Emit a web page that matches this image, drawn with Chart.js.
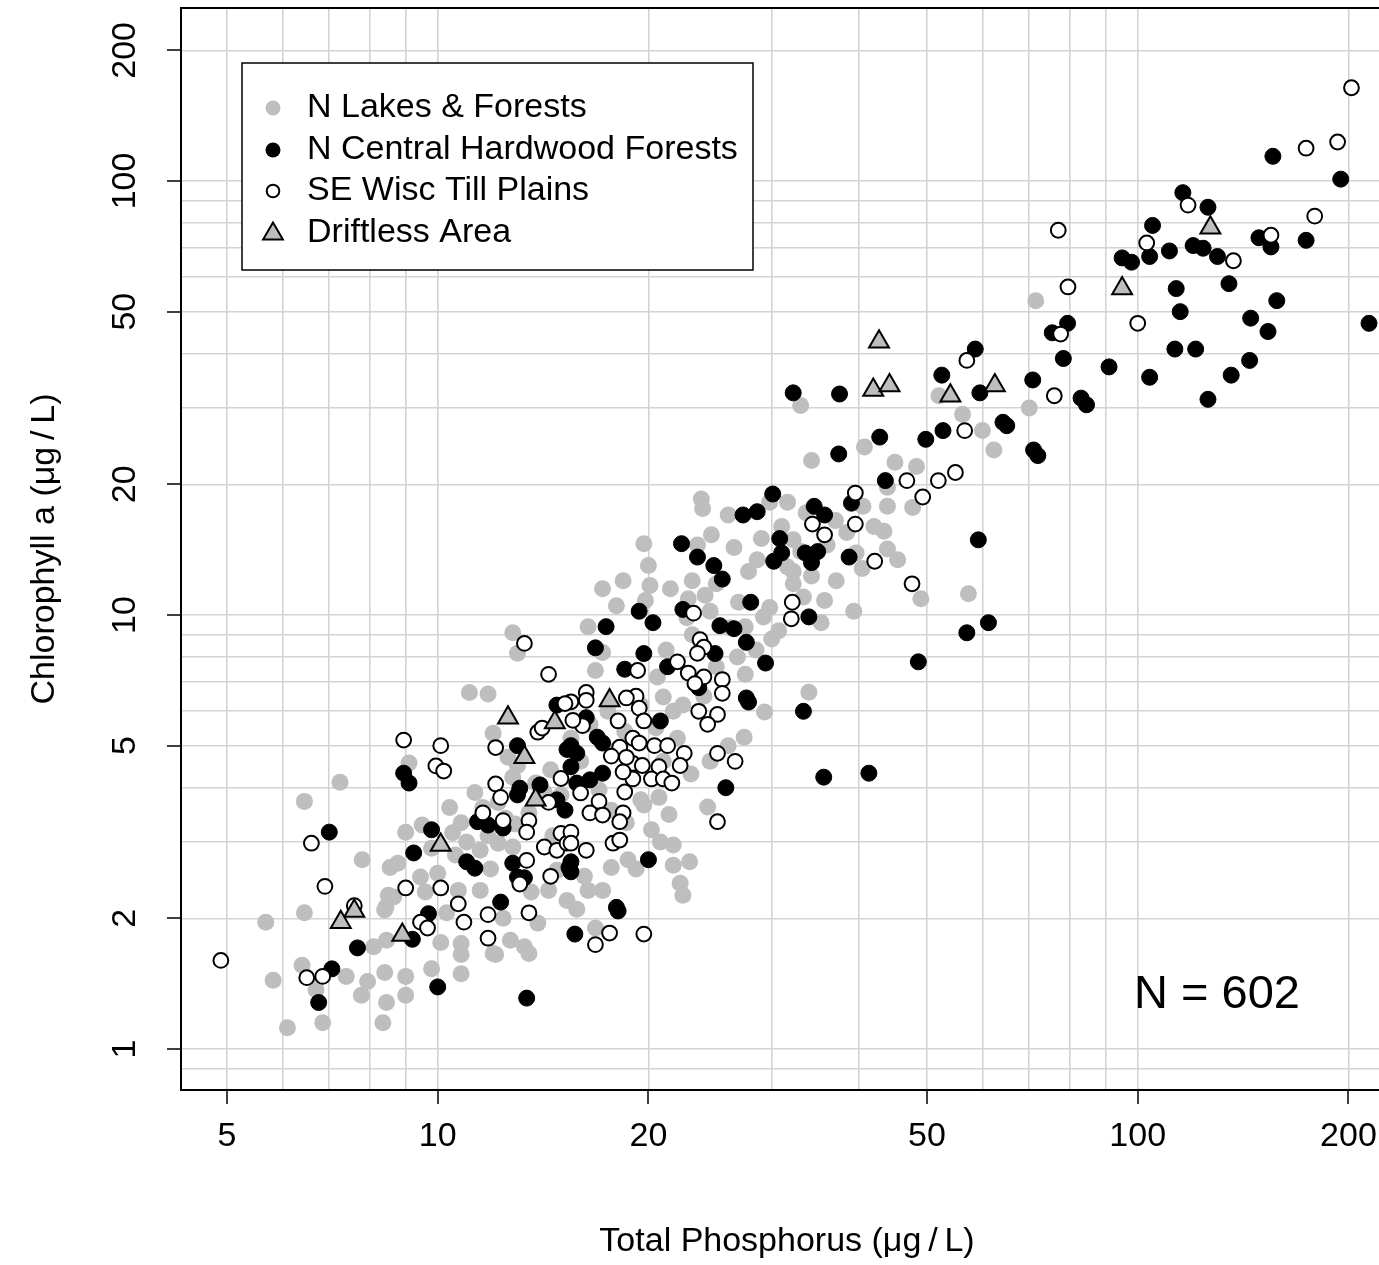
<!DOCTYPE html>
<html><head><meta charset="utf-8">
<script src="https://cdn.jsdelivr.net/npm/chart.js@4.4.1/dist/chart.umd.min.js"></script>
<style>html,body{margin:0;padding:0;background:#fff;overflow:hidden;}#wrap{width:1400px;height:1265px;}</style>
</head><body><div id="wrap"><canvas id="c" width="1400" height="1265"></canvas></div>
<script>
// Total Phosphorus (x, ug/L) , Chlorophyll a (y, ug/L)
const nLakesForests = [
[71.5,53],[70,30],[52,32],[56.2,29],[60,26.6],[62.3,24],[40.7,24.4],[45,22.5],[48.3,22],[33,30.4],[34.2,22.7],
[43.9,19.7],[47.7,17.7],[43.9,17.8],[40.5,17.8],[33.6,17.2],[38.4,15.5],[43.4,15.6],[39.6,13.9],[43.9,14.2],
[45.4,13.4],[40.4,12.8],[32.2,12.6],[34.2,12.3],[32.2,11.8],[37.1,12.0],[35.7,10.8],[39.3,10.2],[33.3,11],
[35.3,9.6],[49,10.9],[57.3,11.2],[33.9,6.64],[29.3,5.98],[30.7,9.2],
[31.6,18.2],[29.8,18.2],[23.9,17.6],[32.2,14.9],[24.6,15.3],[23.5,14.5],[26.5,14.3],[28.6,13.4],[27.8,12.6],
[31.6,12.9],[19.7,14.6],[20,13],[18.4,12.0],[20.1,11.7],[23.1,12.0],[24.1,11.1],[22.8,10.9],[26.9,10.7],
[29.8,10.4],[29.2,9.9],[16.4,9.4],[26.2,9.35],[27.5,9.4],[22.7,9.85],[24.5,10.2],
[23.1,9.0],[26.8,8.0],[17.2,8.2],[16.8,7.45],[20.6,7.2],[21.7,6.0],[22.4,6.2],[21.0,6.47],[27.4,5.23],[21.2,8.3],
[12.8,9.1],[13,8.16],[11.1,6.63],[11.8,6.58],[12.0,5.34],[12.6,4.7],[9.1,4.56],[12.8,4.23],
[9.0,3.16],[9.5,3.28],[10.5,3.15],[10.8,3.32],[11.5,2.87],[12.2,2.98],[12.8,2.92],[8.77,2.68],[9.45,2.49],
[10,2.54],[10.7,2.32],[11.5,2.32],[8.65,2.24],[8.43,2.12],[10.3,2.06],[10.1,1.76],[10.8,1.75],[12,1.66],
[12.7,1.78],[13.3,1.72],[13.9,1.95],[14.8,2.58],[14.4,2.32],[15.3,2.2],
[24.3,3.61],[17.7,2.62],[18.7,2.73],[16.4,2.32],[17.2,2.32],[21.7,2.95],[21.7,2.65],[22.2,2.41],[22.4,2.26],
[20.7,3.8],[19.7,3.65],[21.4,3.47],[18.6,3.32],[16.8,1.9],
[8.4,1.5],[9.0,1.47],[9.0,1.33],[8.45,1.28],[8.35,1.15],[9.8,1.53],[10.8,1.65],[10.8,1.49],[12.1,1.65],[13.5,1.66],
[7.25,4.12],[6.45,3.72],[7.8,2.73],[6.45,2.06],[5.68,1.96],[5.82,1.44],[6.4,1.56],[7.4,1.47],[7.94,1.43],
[7.78,1.33],[6.85,1.15],[6.1,1.12],[6.7,1.37],[8.1,1.72],[8.45,1.78],[8.4,2.09],[8.5,2.26],[8.55,2.62],
[11,3.0],[11.8,3.1],[12.5,3.4],[13.5,3.5],[14.2,3.9],[15,3.85],[17,3.95],[19.5,3.75],[17.7,3.55],[20.2,3.2],
[22.9,2.7],[13,4.5],[14.5,4.4],[15.5,5.2],[16.5,5.6],[17.5,6.0],[18.5,5.4],[19.5,6.2],[20.5,5.5],[22,5.2],
[23,4.3],[24.5,4.6],[26,5.0],[12.2,3.7],[11.3,3.9],[10.4,3.6],[9.8,2.9],[13.8,4.1],[16,4.6],[18,4.9],[21,4.6],
[24,6.5],[25,7.6],[27.5,7.3],[28.5,8.3],[30,8.8],[19.8,10.8],[21.5,11.5],[18,10.5],[17.2,11.5],[25,11.8],
[33,14],[36,14.5],[37,16.5],[42,16],[31,16],[29,15],[26,17],[23.8,18.5],
[11.6,3.6],[12.9,3.3],[14.6,3.1],[10.6,2.8],[11.9,2.6],[13.6,2.3],[9.6,2.3],[16.2,2.5],[19.2,2.6],[20.8,3.0],
[15.8,2.1],[12.4,2.0]
];
const nCentralHardwood = [
[156,114],[195,101],[116,94],[126,87],[105,79],[104,67],[95,66.5],[98,65],[111,69],[120,71],[124,70],[130,67],
[149,74],[155,70.5],[174,73],[214,47],[113.5,56.5],[135,58],[158,53],[115,50],[145,48.3],[153.5,45],[79.4,47],
[75.5,44.7],[78.3,39],[91,37.3],[113,41],[121,41],[144.5,38.6],[136,35.7],[104,35.3],[126,31.4],[70.8,34.8],
[83,31.6],[84.5,30.5],
[37.5,32.3],[52.5,35.7],[58.6,41],[59.5,32.5],[64.2,27.8],[65,27.3],[71,24],[72,23.3],[52.7,26.6],[49.8,25.4],
[42.8,25.7],[37.4,23.5],[32.2,32.5],[43.6,20.4],[39,18.1],[34.5,17.8],[35.7,17],[33.5,13.9],[34.9,14.0],
[34.2,13.2],[38.7,13.6],[33.9,9.9],[59.2,14.9],[61.2,9.6],[57,9.1],
[29.4,7.75],[48.6,7.8],[33.3,6.0],[35.6,4.23],[41.3,4.32],
[30.1,19],[27.3,17],[28.6,17.3],[30.8,15],[31.0,13.9],[30.2,13.3],[22.3,14.6],[23.5,13.6],[24.8,13],[25.5,12.1],
[28,10.7],[19.4,10.2],[20.3,9.6],[22.4,10.3],[17.4,9.4],[25.3,9.45],[26.5,9.3],
[27.6,8.65],[24.9,8.15],[16.8,8.4],[19.7,8.15],[18.5,7.5],[21.3,7.6],[23.6,6.8],[27.6,6.44],[27.8,6.3],
[20.8,5.7],[16.3,5.8],[15.5,5.0],[15.8,4.8],[15.5,4.47],[16.9,5.23],[17.2,5.07],[25.8,4.0],[17.2,4.32],
[16.5,4.17],[15.8,4.1],
[14.8,6.2],[13,5.0],[15.3,4.9],[8.94,4.32],[9.1,4.1],[14.0,4.06],[13.1,3.99],
[13,3.85],[14.8,3.75],[15.2,3.55],[11.4,3.34],[11.8,3.28],[12.4,3.23],[9.8,3.2],[9.24,2.83],[11,2.7],[11.3,2.61],
[12.8,2.68],[13,2.49],[13.3,2.48],[15.4,2.62],[12.3,2.18],[9.7,2.05],[9.2,1.79],
[20,2.73],[15.5,2.7],[15.5,2.56],[18,2.12],[18.1,2.08],[15.7,1.84],
[10,1.39],[13.4,1.31],
[7.0,3.16],[7.68,1.71],[7.06,1.53],[6.76,1.28]
];
const seWiscTillPlains = [
[202,164],[174,119],[193,123],[118,88],[103,72],[137,65.5],[155,75],[179,83],[77,77],[79.5,57],[100,47],
[77.6,44.4],[76,32],
[57,38.6],[56.6,26.6],[54.9,21.3],[46.8,20.4],[51.9,20.4],[49.3,18.7],[39.5,19.1],[34.3,16.2],[35.7,15.3],
[39.5,16.2],[42.1,13.3],[32.1,10.7],[32,9.8],[47.6,11.8],
[23.2,10.1],
[23.7,8.77],[24,8.43],[23.5,8.16],[19.3,7.45],[22,7.8],[22.8,7.35],[24,7.2],[23.3,6.95],[25.5,7.1],[25.5,6.6],
[23.6,6.0],[25.1,5.9],[24.3,5.6],[19.2,6.5],[18.6,6.44],[19.4,6.1],[19.7,5.7],[16.3,6.63],[16.3,6.36],[18.1,5.7],
[16.1,5.56],[15.6,5.72],[15.5,6.31],[19,5.2],[18.2,4.96],[19.4,5.07],[20.4,5.0],[21.3,5.0],[22.5,4.8],[22.2,4.5],
[17.7,4.73],[19,4.55],[18.6,4.7],[19.6,4.5],[20.7,4.47],[20.2,4.19],[21.0,4.19],[19,4.19],[18.4,4.35],[21.6,4.1],
[25.1,4.8],[26.6,4.6],
[13.3,8.6],[14.4,7.3],[15.2,6.25],[13.9,5.37],[14.1,5.49],[12.1,4.95],[8.94,5.15],[10.1,5.0],[9.94,4.49],
[10.2,4.37],[12.1,4.08],[15,4.2],
[12.3,3.8],[14.4,3.7],[11.6,3.5],[12.4,3.36],[13.5,3.36],[13.4,3.16],[15,3.14],[14.2,2.92],[14.8,2.87],
[15.3,2.98],[13.4,2.72],[13.1,2.4],[14.5,2.5],[9.0,2.35],[10.1,2.35],[10.7,2.16],[11.8,2.04],[13.5,2.06],
[10.9,1.96],[9.45,1.96],[9.67,1.9],[11.8,1.8],
[25.1,3.34],[16,3.89],[17,3.72],[18.5,3.91],[16.5,3.5],[17.2,3.46],[18.4,3.5],[18.2,3.34],[15.5,3.16],
[15.5,2.98],[16.3,2.87],[17.8,2.98],[18.2,3.03],[17.6,1.85],[19.7,1.84],[16.8,1.74],
[6.6,2.98],[6.9,2.37],[7.6,2.14],[4.9,1.6],[6.5,1.46],[6.85,1.47]
];
const driftlessArea = [
[127,78],[95,56.5],[42.7,42.6],[41.9,33],[44.2,33.8],[54,32],[62.5,33.8],[17.6,6.35],[12.6,5.8],[14.7,5.65],
[13.3,4.7],[13.8,3.75],[10.1,2.95],[8.9,1.83],[7.6,2.08],[7.27,1.96]
];
const seriesNames = ["N Lakes & Forests","N Central Hardwood Forests","SE Wisc Till Plains","Driftless Area"];
const xTickLabels = [5,10,20,50,100,200];
const yTickLabels = [1,2,5,10,20,50,100,200];
const xGridValues = [5,6,7,8,9,10,20,30,40,50,60,70,80,90,100,200];
const yGridValues = [0.9,1,2,3,4,5,6,7,8,9,10,20,30,40,50,60,70,80,90,100,200];
const xTitle = "Total Phosphorus (\u03BCg\u2009/\u2009L)";
const yTitle = "Chlorophyll a (\u03BCg\u2009/\u2009L)";
const nLabel = "N = 602";

const toPts = a => a.map(p => ({x:p[0], y:p[1]}));
const FONT = '"Liberation Sans", Arial, sans-serif';
const GREY = '#bebebe';

const deco = {
  id:'deco',
  afterDraw(chart){
    const ctx = chart.ctx, ca = chart.chartArea;
    const xs = chart.scales.x, ys = chart.scales.y;
    ctx.save();
    ctx.strokeStyle = '#000'; ctx.lineWidth = 2;
    ctx.beginPath();
    ctx.moveTo(ca.left, ca.top); ctx.lineTo(ca.right, ca.top); ctx.lineTo(ca.right, ca.bottom);
    ctx.stroke();
    // tick marks
    ctx.lineWidth = 1.5;
    ctx.beginPath();
    xTickLabels.forEach(v => { const px = Math.round(xs.getPixelForValue(v)); ctx.moveTo(px, ca.bottom); ctx.lineTo(px, ca.bottom + 14); });
    yTickLabels.forEach(v => { const py = Math.round(ys.getPixelForValue(v)); ctx.moveTo(ca.left - 14, py); ctx.lineTo(ca.left, py); });
    ctx.stroke();
    // tick labels
    ctx.fillStyle = '#000';
    ctx.font = '34px ' + FONT;
    ctx.textAlign = 'center'; ctx.textBaseline = 'middle';
    xTickLabels.forEach(v => ctx.fillText(String(v), xs.getPixelForValue(v), 1137));
    yTickLabels.forEach(v => {
      ctx.save(); ctx.translate(126, ys.getPixelForValue(v)); ctx.rotate(-Math.PI/2);
      ctx.fillText(String(v), 0, 0); ctx.restore();
    });
    // titles
    ctx.font = '34px ' + FONT;
    ctx.fillText(xTitle, 787, 1242);
    ctx.save(); ctx.translate(45, 549); ctx.rotate(-Math.PI/2); ctx.fillText(yTitle, 0, 0); ctx.restore();
    // N label
    ctx.font = '47px ' + FONT;
    ctx.fillText(nLabel, 1217, 995);
    // legend
    ctx.fillStyle = '#fff';
    ctx.fillRect(242, 63, 511, 207);
    ctx.strokeStyle = '#000'; ctx.lineWidth = 1.5;
    ctx.strokeRect(242, 63, 511, 207);
    const ly = [108, 150, 191, 233];
    const mx = 273;
    ctx.beginPath(); ctx.arc(mx, ly[0], 7.5, 0, 2*Math.PI); ctx.fillStyle = GREY; ctx.fill();
    ctx.beginPath(); ctx.arc(mx, ly[1], 7.5, 0, 2*Math.PI); ctx.fillStyle = '#000'; ctx.fill();
    ctx.beginPath(); ctx.arc(mx, ly[2], 6.3, 0, 2*Math.PI); ctx.fillStyle = '#fff'; ctx.fill();
    ctx.lineWidth = 2; ctx.strokeStyle = '#000'; ctx.stroke();
    const r = 11;
    ctx.beginPath();
    ctx.moveTo(mx, ly[3] - r*0.95);
    ctx.lineTo(mx + r*0.9, ly[3] + r*0.6);
    ctx.lineTo(mx - r*0.9, ly[3] + r*0.6);
    ctx.closePath();
    ctx.fillStyle = GREY; ctx.fill(); ctx.stroke();
    ctx.fillStyle = '#000';
    ctx.font = '34px ' + FONT;
    ctx.textAlign = 'left';
    seriesNames.forEach((s, i) => ctx.fillText(s, 307, ly[i]));
    ctx.restore();
  }
};

new Chart(document.getElementById('c'), {
  type: 'scatter',
  data: {
    datasets: [
      {label: seriesNames[0], data: toPts(nLakesForests), pointRadius: 8.5, pointHoverRadius: 8.5, backgroundColor: GREY, borderWidth: 0, order: 4},
      {label: seriesNames[1], data: toPts(nCentralHardwood), pointRadius: 8, pointHoverRadius: 8, backgroundColor: '#000', borderColor: '#000', borderWidth: 1, order: 3},
      {label: seriesNames[2], data: toPts(seWiscTillPlains), pointRadius: 7.4, pointHoverRadius: 7.4, backgroundColor: '#fff', borderColor: '#000', borderWidth: 2, order: 2},
      {label: seriesNames[3], data: toPts(driftlessArea), pointStyle: 'triangle', pointRadius: 11.5, pointHoverRadius: 11.5, backgroundColor: GREY, borderColor: '#000', borderWidth: 2, order: 1}
    ]
  },
  options: {
    responsive: false, animation: false, events: [],
    layout: {autoPadding: false, padding: {top: 8, right: 10, left: 0, bottom: 0}},
    plugins: {legend: {display: false}, tooltip: {enabled: false}},
    scales: {
      x: {
        type: 'logarithmic', min: 4.298, max: 229.3,
        afterBuildTicks: s => { s.ticks = xGridValues.map(v => ({value: v})); },
        afterFit: s => { s.height = 175; },
        ticks: {display: false},
        grid: {color: '#d3d3d3', lineWidth: 1.6, drawTicks: false},
        border: {display: true, color: '#000', width: 2}
      },
      y: {
        type: 'logarithmic', min: 0.8045, max: 250.4,
        afterBuildTicks: s => { s.ticks = yGridValues.map(v => ({value: v})); },
        afterFit: s => { s.width = 181; },
        ticks: {display: false},
        grid: {color: '#d3d3d3', lineWidth: 1.6, drawTicks: false},
        border: {display: true, color: '#000', width: 2}
      }
    }
  },
  plugins: [deco]
});
</script>
</body></html>
